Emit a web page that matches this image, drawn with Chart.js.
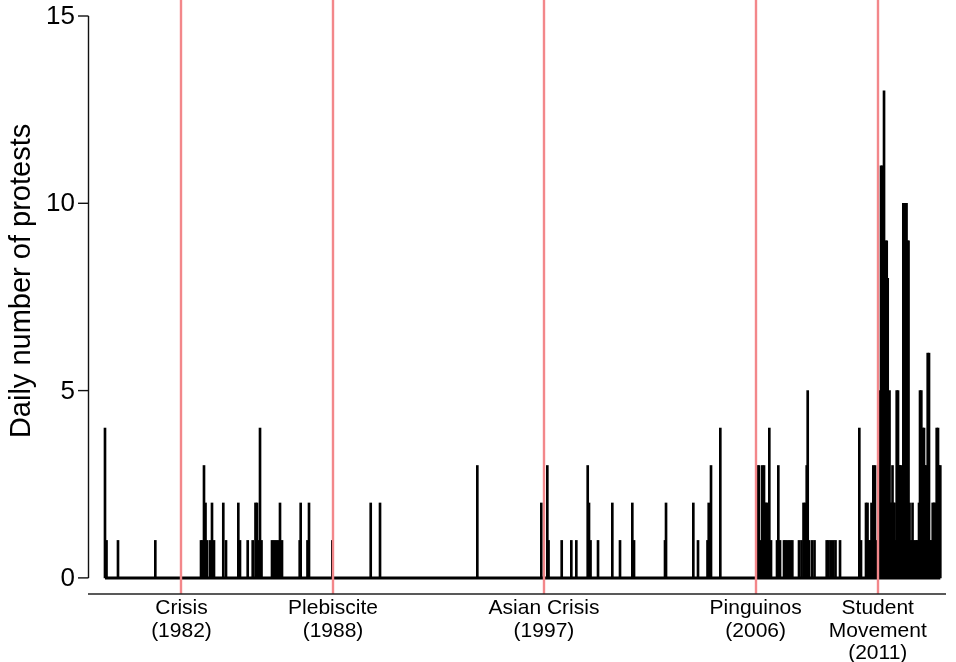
<!DOCTYPE html>
<html>
<head>
<meta charset="utf-8">
<script src="https://cdn.jsdelivr.net/npm/chart.js@4/dist/chart.umd.min.js"></script>
<style>
  html, body { margin: 0; padding: 0; background: #fff; }
  #wrap { width: 956px; height: 662px; }
</style>
</head>
<body>
<div id="wrap"><canvas id="c" width="956" height="662"></canvas></div>
<script>
// Days with at least one protest (decimal year) and the number of protests that day
const protestDates = [
  1979.272, 1979.335, 1979.813, 1981.366,
  1983.268, 1983.330, 1983.392, 1983.455, 1983.517, 1983.642, 1983.725, 1983.808,
  1984.195, 1984.308, 1984.820, 1984.890,
  1985.211, 1985.419, 1985.535, 1985.598, 1985.660, 1985.723, 1985.785,
  1986.222, 1986.305, 1986.389, 1986.472, 1986.555, 1986.638,
  1987.375, 1987.416, 1987.699, 1987.762, 1988.732,
  1990.330, 1990.717, 1994.766,
  1997.429, 1997.679, 1997.729, 1998.278, 1998.678, 1998.886,
  1999.360, 1999.414, 1999.477, 1999.789,
  2000.384, 2000.704, 2001.216, 2001.287,
  2002.577, 2002.619, 2003.755, 2003.950,
  2004.346, 2004.396, 2004.491, 2004.878,
  2006.393, 2006.426, 2006.489, 2006.551, 2006.626, 2006.697, 2006.738, 2006.780, 2006.851, 2006.917, 2006.988,
  2007.238, 2007.292, 2007.363, 2007.529, 2007.600, 2007.696, 2007.779, 2007.875,
  2008.153, 2008.257, 2008.341, 2008.403, 2008.474, 2008.515, 2008.569, 2008.694, 2008.798,
  2009.306, 2009.381, 2009.472, 2009.581, 2009.672, 2009.860,
  2010.663, 2010.733, 2010.941, 2011.004, 2011.046, 2011.108, 2011.170, 2011.245, 2011.316, 2011.378,
  2011.462, 2011.524, 2011.566, 2011.628, 2011.691, 2011.753, 2011.803, 2011.844, 2011.886, 2011.919,
  2011.961, 2012.003, 2012.044, 2012.086, 2012.127, 2012.169, 2012.219, 2012.273, 2012.315, 2012.356,
  2012.398, 2012.440, 2012.494, 2012.544, 2012.585, 2012.627, 2012.668, 2012.710, 2012.752, 2012.814,
  2012.877, 2012.939, 2013.022, 2013.085, 2013.147, 2013.189, 2013.243, 2013.301, 2013.355, 2013.397,
  2013.438, 2013.509, 2013.563, 2013.605, 2013.667, 2013.717, 2013.771, 2013.813, 2013.883, 2013.938,
  2013.979, 2014.033
];
const protestCounts = [
  4, 1, 1, 1,
  1, 1, 3, 2, 1, 1, 2, 1,
  2, 1, 2, 1,
  1, 1, 2, 2, 1, 4, 1,
  1, 1, 1, 1, 2, 1,
  1, 2, 1, 2, 1,
  2, 2, 3,
  2, 3, 1, 1, 1, 1,
  3, 2, 1, 1,
  2, 1, 2, 1,
  1, 2, 2, 1,
  1, 2, 3, 4,
  1, 3, 3, 1, 3, 3, 2, 2, 2, 4, 1,
  1, 3, 1, 1, 1, 1, 1, 1,
  1, 1, 2, 2, 3, 5, 1, 1, 1,
  1, 1, 1, 1, 1, 1,
  4, 1, 2, 2, 1, 1, 2, 3, 3, 1,
  1, 5, 11, 11, 13, 9, 9, 8, 4, 5,
  2, 2, 3, 2, 2, 1, 5, 5, 3, 3,
  3, 2, 10, 10, 10, 10, 9, 9, 2, 1,
  2, 1, 1, 1, 2, 5, 5, 4, 4, 3,
  3, 6, 6, 1, 1, 2, 2, 2, 4, 4,
  3, 3
];

// Historical events marked on the time axis
const eventYears  = [1982.455, 1988.760, 1997.540, 2006.350, 2011.430];
const eventLabels = [
  ['Crisis', '(1982)'],
  ['Plebiscite', '(1988)'],
  ['Asian Crisis', '(1997)'],
  ['Pinguinos', '(2006)'],
  ['Student', 'Movement', '(2011)']
];

// Y axis ticks
const yTicks = [0, 5, 10, 15];

const xMin = 1978.565, xMax = 2014.27;
const seriesStart = Math.min(...protestDates);
const seriesEnd = Math.max(...protestDates);

const FONT = "'Liberation Sans', Arial, Helvetica, sans-serif";

const frame = {
  id: 'frame',
  afterDatasetsDraw(chart) {
    const { ctx, chartArea: a, scales: { x, y } } = chart;
    ctx.save();

    // event markers
    ctx.strokeStyle = '#F3878A';
    ctx.lineWidth = 2.4;
    eventYears.forEach(v => {
      const px = Math.round(x.getPixelForValue(v));
      ctx.beginPath();
      ctx.moveTo(px, 0);
      ctx.lineTo(px, a.bottom);
      ctx.stroke();
    });

    // vertical axis with ticks
    ctx.strokeStyle = '#111';
    ctx.lineWidth = 1.4;
    const yTop = y.getPixelForValue(yTicks[yTicks.length - 1]);
    const yBot = y.getPixelForValue(yTicks[0]);
    ctx.beginPath();
    ctx.moveTo(a.left + 0.5, yTop);
    ctx.lineTo(a.left + 0.5, yBot);
    ctx.stroke();
    ctx.fillStyle = '#000';
    ctx.font = '26px ' + FONT;
    ctx.textAlign = 'right';
    ctx.textBaseline = 'middle';
    yTicks.forEach(t => {
      const py = y.getPixelForValue(t);
      ctx.beginPath();
      ctx.moveTo(a.left - 10, py);
      ctx.lineTo(a.left + 0.5, py);
      ctx.stroke();
      ctx.fillText(String(t), a.left - 13, py + 1);
    });

    // horizontal axis
    ctx.strokeStyle = '#222';
    ctx.lineWidth = 1.6;
    ctx.beginPath();
    ctx.moveTo(a.left, a.bottom);
    ctx.lineTo(a.right, a.bottom);
    ctx.stroke();

    // event labels
    ctx.font = '21px ' + FONT;
    ctx.textAlign = 'center';
    ctx.textBaseline = 'top';
    eventYears.forEach((v, i) => {
      const px = x.getPixelForValue(v);
      eventLabels[i].forEach((line, k) => {
        ctx.fillText(line, px, a.bottom + 4 + k * 22.5);
      });
    });

    // y axis title
    ctx.font = '29px ' + FONT;
    ctx.translate(22, (yTop + yBot) / 2 - 16);
    ctx.rotate(-Math.PI / 2);
    ctx.textAlign = 'center';
    ctx.textBaseline = 'middle';
    ctx.fillText('Daily number of protests', 0, 0);

    ctx.restore();
  }
};

new Chart(document.getElementById('c'), {
  type: 'bar',
  data: {
    datasets: [
      {
        type: 'line',
        data: [{ x: seriesStart, y: 0 }, { x: seriesEnd, y: 0 }],
        borderColor: '#000',
        borderWidth: 3,
        pointRadius: 0,
        order: 2
      },
      {
        type: 'bar',
        data: protestDates.map((d, i) => ({ x: d, y: protestCounts[i] })),
        backgroundColor: '#000',
        borderWidth: 0,
        barThickness: 2,
        order: 1
      }
    ]
  },
  options: {
    responsive: false,
    animation: false,
    devicePixelRatio: 1,
    layout: { padding: { left: 88, right: 10, top: 16, bottom: 68 } },
    plugins: { legend: { display: false }, tooltip: { enabled: false } },
    scales: {
      x: { type: 'linear', min: xMin, max: xMax, offset: false, display: false },
      y: { min: -0.43, max: 15, display: false }
    }
  },
  plugins: [frame]
});
</script>
</body>
</html>
